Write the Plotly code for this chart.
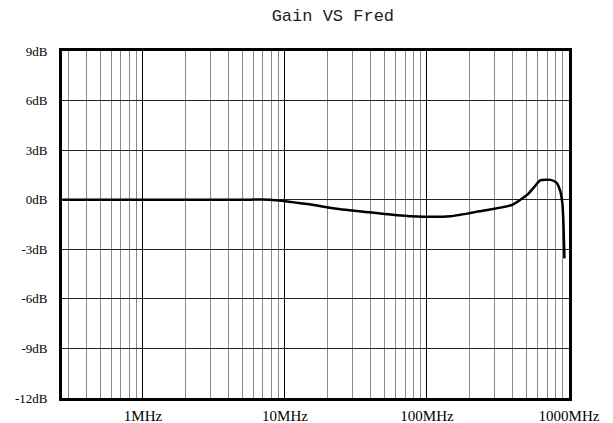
import numpy as np
import plotly.graph_objects as go

# Data (frequency in MHz, gain in dB)
freq_mhz = [0.27, 1, 5, 7.8, 14.3, 24, 45.6, 77.6, 146, 234, 395, 514, 570, 627,
            742, 815, 867, 899, 914, 929]
gain_db = [0, 0, 0, 0, -0.26, -0.56, -0.82, -1.0, -1.0, -0.7, -0.32, 0.34, 0.78,
           1.17, 1.2, 1.04, 0.54, -0.26, -1.46, -3.55]

x_tick_vals = [1, 10, 100, 1000]
x_tick_text = ["1MHz", "10MHz", "100MHz", "1000MHz"]
y_tick_vals = [9, 6, 3, 0, -3, -6, -9, -12]
y_tick_text = ["9dB", "6dB", "3dB", "0dB", "-3dB", "-6dB", "-9dB", "-12dB"]

fig = go.Figure()
fig.add_trace(go.Scatter(
    x=freq_mhz, y=gain_db, mode="lines",
    line=dict(color="black", width=2.5, shape="spline", smoothing=0.6),
    showlegend=False, hoverinfo="skip",
))

fig.update_layout(
    width=613, height=423,
    margin=dict(l=62, r=44, t=51, b=25),
    paper_bgcolor="white", plot_bgcolor="white",
    title=dict(text="Gain VS Fred", x=0.543, xanchor="center",
               y=0.965, yanchor="middle", yref="container", automargin=False,
               font=dict(family="Liberation Mono", size=17, color="#222")),
    font=dict(family="Liberation Serif", color="black"),
)

fig.update_xaxes(
    type="log", range=[np.log10(0.269), 3], automargin=False,
    tickvals=x_tick_vals, ticktext=x_tick_text,
    tickfont=dict(family="Liberation Serif", size=15, color="black"),
    showgrid=True, gridcolor="black", gridwidth=1,
    minor=dict(dtick="D1", showgrid=True, gridcolor="#8a8a8a", gridwidth=1.3, ticks=""),
    ticks="", ticklabelstandoff=2,
    showline=True, linecolor="black", linewidth=3, mirror=True,
    zeroline=False,
)
fig.update_yaxes(
    range=[-12, 9], automargin=False,
    tickvals=y_tick_vals, ticktext=y_tick_text,
    tickfont=dict(family="Liberation Serif", size=13, color="black"),
    showgrid=True, gridcolor="#222", gridwidth=1,
    ticks="", ticklabelstandoff=9,
    showline=True, linecolor="black", linewidth=3, mirror=True,
    zeroline=False,
)

fig.write_html("out.html", config={"displayModeBar": False},
               post_script="document.body.style.margin='0';document.body.style.overflow='hidden';")
